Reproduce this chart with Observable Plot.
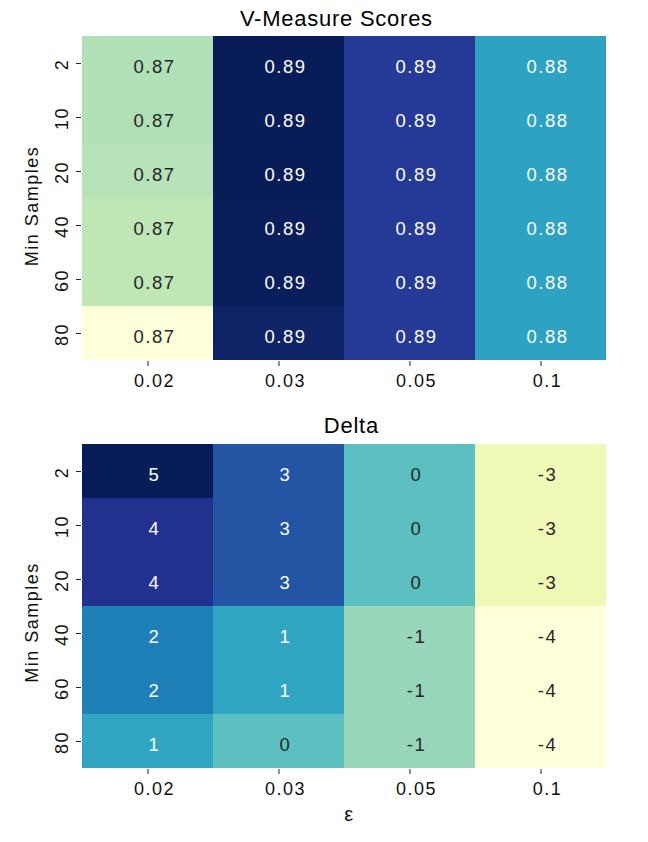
<!DOCTYPE html>
<html><head><meta charset="utf-8">
<script src="https://cdn.jsdelivr.net/npm/d3@7"></script>
<script src="https://cdn.jsdelivr.net/npm/@observablehq/plot@0.6"></script>
<style>
body{margin:0;background:#fff;}
#wrap{position:relative;width:648px;height:842px;font-family:"Liberation Sans",Arial,sans-serif;background:#fff;}
.ttl{position:absolute;white-space:nowrap;font-size:22px;line-height:1;color:#000;letter-spacing:0.75px;transform:translateX(-50%);}
.chart{position:absolute;left:0;}
</style></head><body><div id="wrap"></div>
<script>
// categories
const eps = ["0.02", "0.03", "0.05", "0.1"];
const minSamples = ["2", "10", "20", "40", "60", "80"];
// V-Measure scores per epsilon column (rows = min samples)
const vMeasure_002 = [0.8744, 0.8744, 0.8742, 0.8738, 0.8738, 0.8680];
const vMeasure_003 = [0.8900, 0.8900, 0.8900, 0.8899, 0.8899, 0.8893];
const vMeasure_005 = [0.8869, 0.8869, 0.8869, 0.8869, 0.8869, 0.8869];
const vMeasure_01  = [0.8805, 0.8805, 0.8805, 0.8805, 0.8805, 0.8805];
// Delta per epsilon column
const delta_002 = [5, 4, 4, 2, 2, 1];
const delta_003 = [3, 3, 3, 1, 1, 0];
const delta_005 = [0, 0, 0, -1, -1, -1];
const delta_01  = [-3, -3, -3, -4, -4, -4];

const ylgnbuColors = ["#ffffd9","#edf8b1","#c7e9b4","#7fcdbb","#41b6c4","#1d91c0","#225ea8","#253494","#081d58"];
const ylgnbu = d3.piecewise(d3.interpolateRgb, ylgnbuColors);

function toRows(cols) {
  const rows = [];
  cols.forEach((col, i) => col.forEach((v, j) => rows.push({eps: eps[i], ms: minSamples[j], v})));
  return rows;
}
function lum(c) {
  const r = d3.rgb(c);
  const f = x => { x /= 255; return x <= 0.03928 ? x / 12.92 : Math.pow((x + 0.055) / 1.055, 2.4); };
  return 0.2126 * f(r.r) + 0.7152 * f(r.g) + 0.0722 * f(r.b);
}

function panel(cols, fmt, height, marginBottom, withXLabel, labelDy) {
  const data = toRows(cols);
  const domain = d3.extent(data, d => d.v);
  const colorOpts = {type: "linear", domain, interpolate: ylgnbu};
  const cs = Plot.scale({color: colorOpts});
  const dark = data.filter(d => lum(cs.apply(d.v)) > 0.408);
  const light = data.filter(d => lum(cs.apply(d.v)) <= 0.408);
  const marks = [
    Plot.cell(data, {x: "eps", y: "ms", fill: "v"}),
    Plot.text(dark, {x: "eps", y: "ms", text: d => fmt(d.v), fill: "#262626", fontSize: 18.5, lineAnchor: "middle", dx: 6.5, dy: 3.8, ariaLabel: "annot"}),
    Plot.text(light, {x: "eps", y: "ms", text: d => fmt(d.v), fill: "#ffffff", fontSize: 18.5, lineAnchor: "middle", dx: 6.5, dy: 3.8, ariaLabel: "annot"}),
    Plot.axisX({tickSize: 5, fill: "none", stroke: "#222", label: null}),
    Plot.axisY({tickSize: 5, fill: "none", stroke: "#222", label: null}),
    Plot.text(eps, {x: d => d, text: d => d, frameAnchor: "bottom", lineAnchor: "middle", dy: 19.8, dx: 6.5, fontSize: 18, fill: "#111"}),
    Plot.text(minSamples, {y: d => d, text: d => d, frameAnchor: "left", lineAnchor: "middle", textAnchor: "middle", rotate: -90, dx: -19, dy: 1, fontSize: 18, fill: "#111"}),
    Plot.text(["Min Samples"], {frameAnchor: "left", lineAnchor: "middle", textAnchor: "middle", rotate: -90, dx: -49, dy: labelDy, fontSize: 18, fill: "#111", ariaLabel: "ylabel"})
  ];
  if (withXLabel) marks.push(Plot.text(["ε"], {frameAnchor: "bottom", lineAnchor: "middle", dy: 45, dx: 5, fontSize: 20, fill: "#111", ariaLabel: "xlabel"}));
  const svg = Plot.plot({
    width: 648, height, marginLeft: 81, marginRight: 41, marginTop: 0, marginBottom,
    x: {type: "band", domain: eps, padding: 0, axis: null},
    y: {type: "band", domain: minSamples, padding: 0, axis: null},
    color: colorOpts,
    style: {fontFamily: "'Liberation Sans', Arial, sans-serif", fontSize: "18px", letterSpacing: "1.5px", background: "white", color: "#111"},
    marks
  });
  d3.select(svg).selectAll("g[aria-label=annot]").attr("letter-spacing", "1px");
  d3.select(svg).selectAll("g[aria-label=ylabel]").attr("letter-spacing", "1.5px");
  d3.select(svg).selectAll("g[aria-label=xlabel]").attr("letter-spacing", "0px");
  return svg;
}

const wrap = document.getElementById("wrap");
function addTitle(text, cx, top) {
  const d = document.createElement("div");
  d.className = "ttl"; d.textContent = text;
  d.style.left = cx + "px"; d.style.top = top + "px";
  wrap.appendChild(d);
}
addTitle("V-Measure Scores", 336.4, 8.1);
const p1 = panel([vMeasure_002, vMeasure_003, vMeasure_005, vMeasure_01], d3.format(".2f"), 364, 38, false, 7.5);
p1.classList.add("chart"); p1.style.top = "35px"; wrap.appendChild(p1);
addTitle("Delta", 351.4, 415.4);
const p2 = panel([delta_002, delta_003, delta_005, delta_01], d => String(d).replace("−", "-"), 399, 73, true, 16);
p2.classList.add("chart"); p2.style.top = "443px"; wrap.appendChild(p2);
</script></body></html>
